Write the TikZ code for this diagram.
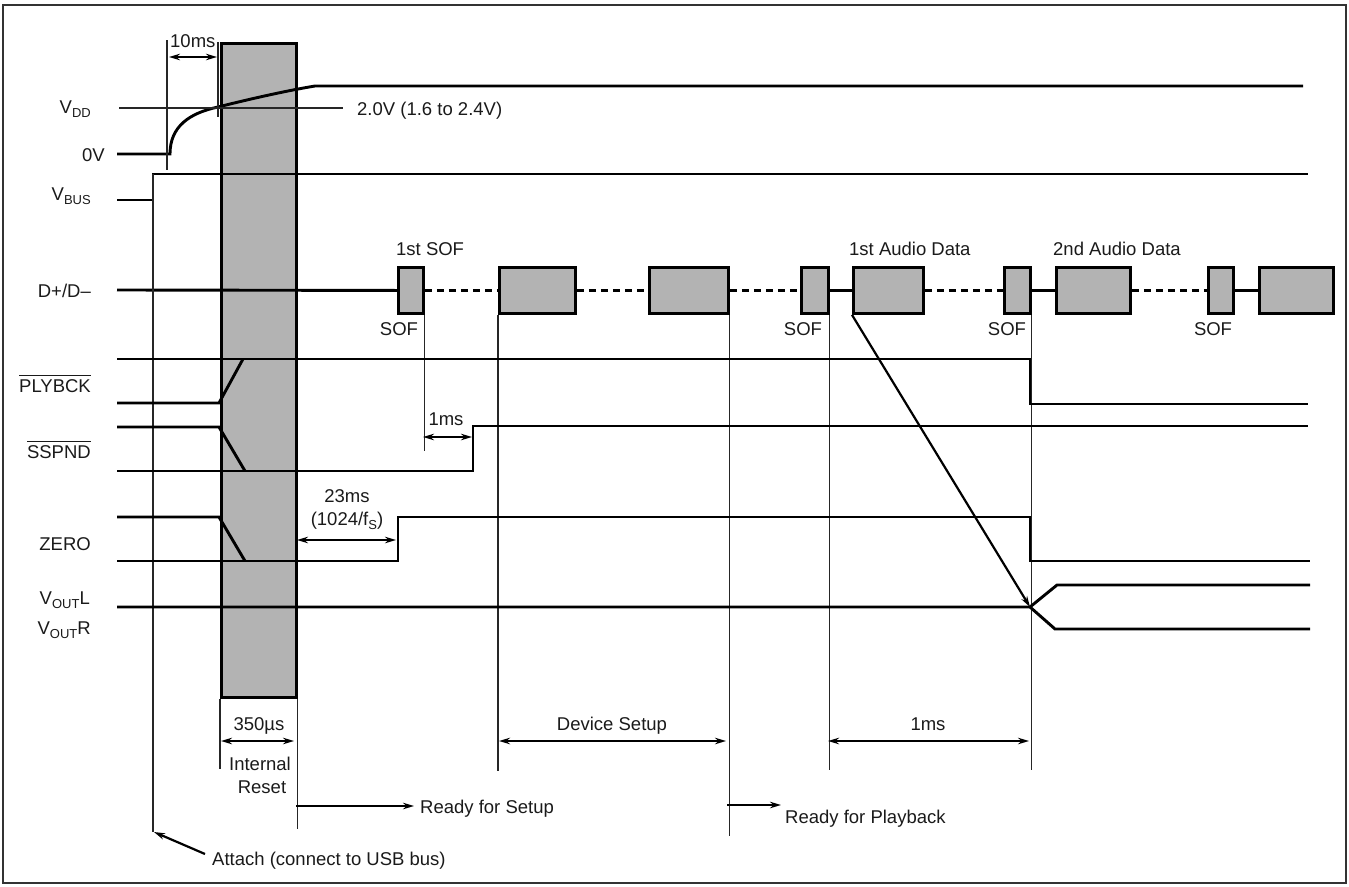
\documentclass[tikz,border=0pt]{standalone}
\usepackage{fontspec}
\setmainfont{Liberation Sans}
\usetikzlibrary{arrows.meta}
\newcommand\lsub[1]{\raisebox{-4.5pt}{\fontsize{13}{13}\selectfont #1}}
\newcommand\ovl[1]{\vbox{\hrule height 1.2pt\kern 3pt\hbox{#1}}}
\definecolor{pktgray}{HTML}{B3B3B3}
\definecolor{ink}{HTML}{1A1A1A}
\begin{document}
\begin{tikzpicture}[x=1pt,y=-1pt,
  sig/.style={line width=2.9pt,draw=black},
  thinln/.style={line width=1.1pt,draw=black!85},
  pkt/.style={draw=black,line width=2.9pt,fill=pktgray,inner sep=0pt,minimum height=46pt,anchor=north west},
  lbl/.style={font=\fontsize{18.5}{22}\selectfont,text=ink,inner sep=0pt},
  dimarr/.style={line width=2.2pt,{Stealth[length=11pt,width=6.5pt]}-{Stealth[length=11pt,width=6.5pt]}},
  onearr/.style={line width=2.2pt,-{Stealth[length=11pt,width=6.5pt]}},
  dotted line/.style={line width=2.9pt,dash pattern=on 7pt off 5pt},
]
\useasboundingbox (0,0) rectangle (1349,886);
\draw[line width=2pt,draw=black!80] (3,5) rectangle (1346,883);

% internal reset block
\node[pkt,minimum width=75pt,minimum height=654pt] (reset) at (220,42) {};

% D+/D- packets
\node[pkt,minimum width=25pt] (sof1) at (397,266) {};
\node[pkt,minimum width=76pt] (b2) at (498,266) {};
\node[pkt,minimum width=79pt] (b3) at (648,266) {};
\node[pkt,minimum width=27pt] (sof2) at (800,266) {};
\node[pkt,minimum width=70pt] (a1) at (852,266) {};
\node[pkt,minimum width=26pt] (sof3) at (1003,266) {};
\node[pkt,minimum width=74pt] (a2) at (1055,266) {};
\node[pkt,minimum width=25pt] (sof4) at (1207,266) {};
\node[pkt,minimum width=74pt] (last) at (1258,266) {};

\coordinate (dstart) at (117,290);
\draw[sig] (dstart) -- (sof1.west);
\draw[dotted line] (sof1.east) -- (b2.west);
\draw[dotted line] (b2.east) -- (b3.west);
\draw[dotted line] (b3.east) -- (sof2.west);
\draw[sig] (sof2.east) -- (a1.west);
\draw[dotted line] (a1.east) -- (sof3.west);
\draw[sig] (sof3.east) -- (a2.west);
\draw[dotted line] (a2.east) -- (sof4.west);
\draw[sig] (sof4.east) -- (last.west);

% marker lines
\draw[thinln] (sof1.south east) -- ++(0,136);
\draw[thinln] (b2.south west) -- ++(0,456);
\draw[thinln] (b3.south east) -- ++(0,521);
\draw[thinln] (sof2.south east) -- ++(0,455);
\draw[thinln] (sof3.south east) -- ++(0,455);
\draw[thinln] (reset.south west) -- ++(0,70);
\draw[thinln] (reset.south east) -- ++(0,130);

% VDD
\draw[sig] (117,154) -- (170,154) .. controls (170,126) and (190,113) .. (218,107)
  .. controls (250,99) and (285,91) .. (315,86) -- (1303,86);
\draw[thinln] (119,108) -- (343,108);
\draw[thinln] (167,40) -- (167,170);
\draw[thinln] (218,42) -- (218,117);
% VBUS
\draw[sig] (117,200) -- (153,200) -- (153,174) -- (1308,174);
\draw[thinln] (153,174) -- (153,832);
% PLYBCK
\draw[sig] (117,359) -- (1030,359) -- (1030,404) -- (1308,404);
\draw[sig] (117,403) -- (219,403) -- (243,359);
% SSPND
\draw[sig] (117,427) -- (219,427) -- (245,471);
\draw[sig] (117,471) -- (473,471) -- (473,426) -- (1308,426);
% ZERO
\draw[sig] (117,517) -- (219,517) -- (245,561);
\draw[sig] (117,561) -- (398,561) -- (398,517) -- (1030,517) -- (1030,561) -- (1310,561);
% VOUT
\coordinate (vsplit) at (1030,607);
\draw[sig] (117,607) -- (vsplit) -- (1057,585) -- (1310,585);
\draw[sig] (vsplit) -- (1055,629) -- (1310,629);
\draw[onearr] (a1.south west) -- (vsplit);

% dimension arrows
\draw[dimarr] (169,57) -- (217,57);
\draw[dimarr] (423,437) -- (472,437);
\draw[dimarr] (297,540) -- (396,540);
\draw[dimarr] (221,741) -- (294,741);
\draw[dimarr] (499,741) -- (726,741);
\draw[dimarr] (828,741) -- (1029,741);
\draw[onearr] (296,806) -- (414,806);
\draw[onearr] (727,805) -- (781,805);
\draw[onearr] (205,854) -- (154,832);

% labels
\node[lbl,anchor=base east] (lvdd) at (91,113) {V\lsub{DD}};
\node[lbl,anchor=base east] (l0v) at (105,161) {0V};
\node[lbl,anchor=base east] (lvbus) at (91,200) {V\lsub{BUS}};
\node[lbl,anchor=base east] (ld) at (91,297) {D+/D–};
\node[lbl,anchor=base east] (lply) at (91,392) {\ovl{PLYBCK}};
\node[lbl,anchor=base east] (lssp) at (91,458) {\ovl{SSPND}};
\node[lbl,anchor=base east] (lzero) at (91,550) {ZERO};
\node[lbl,anchor=base east] (lvl) at (90,604) {V\lsub{OUT}L};
\node[lbl,anchor=base east] (lvr) at (91,634) {V\lsub{OUT}R};

\node[lbl,anchor=base west] (t10) at (170,47) {10ms};
\node[lbl,anchor=base west] (t20) at (357,115) {2.0V (1.6 to 2.4V)};
\node[lbl,anchor=base west] (t1sof) at (396,255) {1st SOF};
\node[lbl,anchor=base] (s1) at (399,335) {SOF};
\node[lbl,anchor=base] (s2) at (803,335) {SOF};
\node[lbl,anchor=base] (s3) at (1007,335) {SOF};
\node[lbl,anchor=base] (s4) at (1213,335) {SOF};
\node[lbl,anchor=base west] (t1a) at (849,255) {1st Audio Data};
\node[lbl,anchor=base west] (t2a) at (1053,255) {2nd Audio Data};
\node[lbl,anchor=base] (t1ms) at (446,425) {1ms};
\node[lbl,anchor=base] (t23) at (347,502) {23ms};
\node[lbl,anchor=base] (t1024) at (347,525) {(1024/f\lsub{S})};
\node[lbl,anchor=base] (t350) at (259,730) {350µs};
\node[lbl,anchor=base] (tint) at (260,770) {Internal};
\node[lbl,anchor=base] (tres) at (262,793) {Reset};
\node[lbl,anchor=base west] (trs) at (420,813) {Ready for Setup};
\node[lbl,anchor=base] (tds) at (612,730) {Device Setup};
\node[lbl,anchor=base] (t1msb) at (928,730) {1ms};
\node[lbl,anchor=base west] (trp) at (785,823) {Ready for Playback};
\node[lbl,anchor=base west] (tatt) at (212,865) {Attach (connect to USB bus)};
\end{tikzpicture}
\end{document}
